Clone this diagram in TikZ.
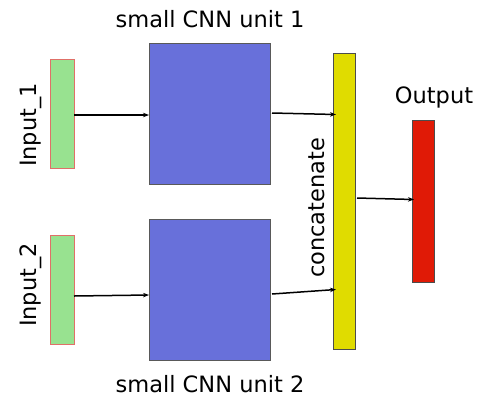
\documentclass[tikz,border=0pt]{standalone}
\usepackage{fontspec}
\setmainfont{DejaVu Sans}
\usetikzlibrary{arrows.meta}
\definecolor{ingreen}{HTML}{98E290}
\definecolor{inedge}{HTML}{E07068}
\definecolor{cnnblue}{HTML}{6870DA}
\definecolor{catyellow}{HTML}{E0DC00}
\definecolor{outred}{HTML}{E01A06}
\begin{document}
\begin{tikzpicture}[x=1pt,y=-1pt,
  blk/.style={draw, line width=0.6pt, inner sep=0pt, outer sep=0pt, anchor=north west},
  inbox/.style={blk, fill=ingreen, draw=inedge, minimum width=24pt, minimum height=109pt},
  cnnbox/.style={blk, fill=cnnblue, draw=gray!70!black, minimum width=121pt, minimum height=141pt},
  catbox/.style={blk, fill=catyellow, draw=gray!60!black, minimum width=22pt, minimum height=296pt},
  outbox/.style={blk, fill=outred, draw=gray!60!black, minimum width=22pt, minimum height=162pt},
  lbl/.style={font=\fontsize{22.5}{26}\selectfont, inner sep=0pt},
  conn/.style={-{Stealth[length=6pt,width=4.5pt]}, line width=1.5pt}]
\useasboundingbox (0,0) rectangle (481,400);
% inputs
\node[inbox] (in1) at (50,59) {};
\node[inbox] (in2) at (50,235) {};
% CNN units
\node[cnnbox] (cnn1) at (149,43) {};
\node[cnnbox] (cnn2) at (149,219) {};
% concatenation and output layers
\node[catbox] (cat) at (333,53) {};
\node[outbox] (out) at (412,120) {};
% labels
\node[lbl, rotate=90] (l1) at (31,125) {Input\_1};
\node[lbl, rotate=90] (l2) at (31,285) {Input\_2};
\node[lbl] (t1) at (210,19) {small CNN unit 1};
\node[lbl] (t2) at (210,384) {small CNN unit 2};
\node[lbl] (to) at (434,97) {Output};
\node[lbl, rotate=90] (tc) at (317,208) {concatenate};
% connections
\coordinate (a1) at (149,115);
\coordinate (a2) at (149,295);
\draw[conn] (in1.east |- a1) -- (a1);
\draw[conn] (in2.east |- 0,296) -- (a2);
\coordinate (b1s) at (272,113);
\coordinate (b1e) at (336,114.5);
\coordinate (b2s) at (272,294);
\coordinate (b2e) at (336,289.5);
\draw[conn] (b1s) -- (b1e);
\draw[conn] (b2s) -- (b2e);
\coordinate (cs) at (357,198);
\coordinate (ce) at (414,199.5);
\draw[conn] (cs) -- (ce);
\end{tikzpicture}
\end{document}
